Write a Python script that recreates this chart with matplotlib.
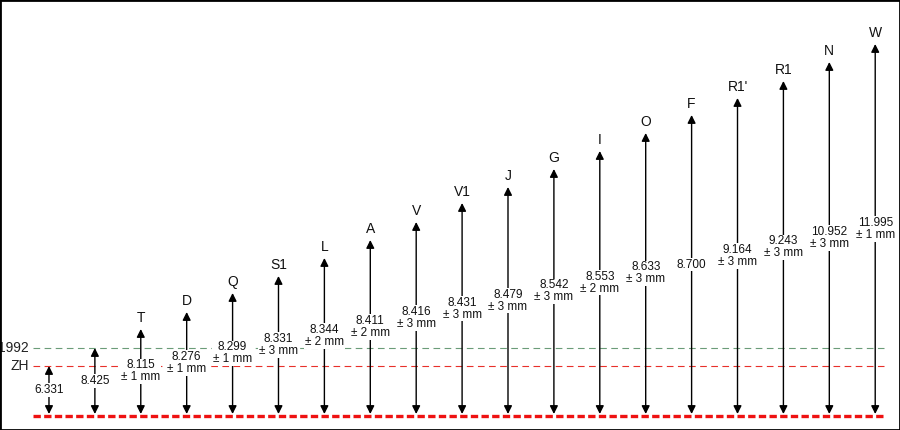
import matplotlib.pyplot as plt
from matplotlib.patches import Rectangle

plt.rcParams['font.family'] = ['Liberation Sans', 'DejaVu Sans']

# benchmark names, heights (m) and their uncertainty (mm)
names = ['', '', 'T', 'D', 'Q', 'S1', 'L', 'A', 'V', 'V1', 'J', 'G', 'I', 'O',
         'F', "R1'", 'R1', 'N', 'W']
values = ['6.331', '8.425', '8.115', '8.276', '8.299', '8.331', '8.344', '8.411',
          '8.416', '8.431', '8.479', '8.542', '8.553', '8.633', '8.700', '9.164',
          '9.243', '10.952', '11.995']
errors = [None, None, 1, 1, 1, 3, 2, 2, 3, 3, 3, 3, 2, 3, None, 3, 3, 3, 1]
# schematic drawing level of each arrow tip above the reference datum
levels = [50, 68, 87, 104, 123, 140, 158, 176, 194, 213, 229, 247, 265, 283,
          301, 318, 335, 354, 372]
ref_names = ['1992', 'ZH']
ref_levels = [68.5, 50.5]
ref_colors = ['#6b9c78', '#e8302a']

fig = plt.figure(figsize=(9, 4.3), dpi=100)
ax = fig.add_axes([0, 0, 1, 1])
ax.set_xlim(-1.067, 18.54)
ax.set_ylim(-14, 416)
ax.axis('off')

# reference datum
ax.plot([-0.35, 18.2], [0, 0], color='#ee1111', lw=2.4, ls=(0, (2.2, 1.0)), zorder=1)
for nm, lv, c in zip(ref_names, ref_levels, ref_colors):
    ax.plot([-0.35, 18.2], [lv, lv], color=c, lw=0.8, ls=(0, (6, 4)), zorder=1)
    ax.text(-0.43, lv, nm, ha='right', va='center', fontsize=10, color='#222222')

for i, (nm, val, err, lv) in enumerate(zip(names, values, errors, levels)):
    ax.annotate('', xy=(i, lv), xytext=(i, 2),
                arrowprops=dict(arrowstyle='<|-|>', color='black', lw=1.0,
                                mutation_scale=12, shrinkA=0, shrinkB=0),
                zorder=2)
    if nm:
        ax.text(i, lv + 4, nm, ha='center', va='bottom', fontsize=10, color='#111111')
    label = val if err is None else f'{val}\n± {err} mm'
    ax.text(i, lv / 2 + 1, label, ha='center', va='center', fontsize=8.5,
            linespacing=1.0, color='#111111', zorder=3,
            bbox=dict(facecolor='white', edgecolor='none', pad=0.5))

fig.patches.append(Rectangle((0, 0), 1, 1, transform=fig.transFigure, fill=False,
                             edgecolor='black', lw=2.0))

fig.savefig('out.png', dpi=100)
